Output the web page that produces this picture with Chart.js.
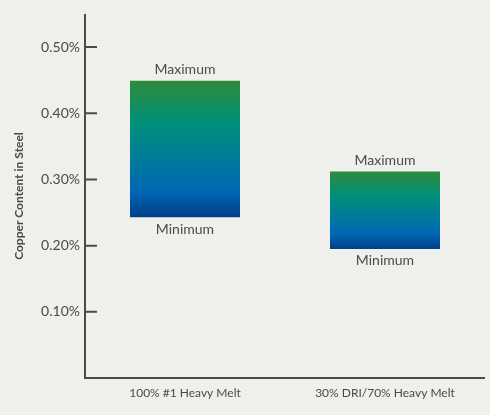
<!DOCTYPE html>
<html><head><meta charset="utf-8">
<script src="https://cdn.jsdelivr.net/npm/chart.js@4"></script>
<style>html,body{margin:0;padding:0;background:#efefeb;}#w{width:490px;height:415px;}</style>
</head><body><div id="w"><canvas id="c"></canvas></div>
<script>
const categories = ['100% #1 Heavy Melt', '30% DRI/70% Heavy Melt'];
const minValues = [0.243, 0.195];
const maxValues = [0.449, 0.312];
const tickValues = [0.1, 0.2, 0.3, 0.4, 0.5];

const ink = '#4a4a4a';
const axisPlugin = {
  id: 'axisPlugin',
  afterDatasetsDraw(chart) {
    const {ctx, chartArea: a, scales: {y}} = chart;
    ctx.save();
    ctx.strokeStyle = ink; ctx.lineWidth = 2;
    ctx.beginPath();
    ctx.moveTo(a.left, a.top); ctx.lineTo(a.left, a.bottom); ctx.lineTo(a.right, a.bottom);
    tickValues.forEach(v => { const py = y.getPixelForValue(v); ctx.moveTo(a.left, py); ctx.lineTo(a.left + 12, py); });
    ctx.stroke();
    ctx.fillStyle = ink; ctx.font = '14px Lato'; ctx.textAlign = 'center';
    chart.getDatasetMeta(0).data.forEach((bar, i) => {
      const top = Math.min(bar.y, bar.base), bot = Math.max(bar.y, bar.base);
      ctx.textBaseline = 'bottom'; ctx.fillText('Maximum', bar.x, top - 4);
      ctx.textBaseline = 'top'; ctx.fillText('Minimum', bar.x, bot + 5);
    });
    ctx.restore();
  }
};

new Chart(document.getElementById('c'), {
  type: 'bar',
  data: {
    labels: categories,
    datasets: [{
      data: categories.map((_, i) => [minValues[i], maxValues[i]]),
      backgroundColor(ctx) {
        const y = ctx.chart.scales && ctx.chart.scales.y;
        const raw = ctx.raw;
        if (!y || !Array.isArray(raw)) return '#009078';
        const top = y.getPixelForValue(Math.max(raw[0], raw[1]));
        const bot = y.getPixelForValue(Math.min(raw[0], raw[1]));
        if (!isFinite(top) || !isFinite(bot) || bot - top < 1) return '#009078';
        const g = ctx.chart.ctx.createLinearGradient(0, top, 0, bot);
        g.addColorStop(0, '#2f8b3b');
        g.addColorStop(0.3, '#009078');
        g.addColorStop(0.8, '#0068b4');
        g.addColorStop(1, '#003f8a');
        return g;
      },
      borderSkipped: false, borderWidth: 0,
      barPercentage: 0.55, categoryPercentage: 1
    }]
  },
  options: {
    responsive: true, maintainAspectRatio: false, animation: false,
    layout: {padding: {top: 14, right: 5, left: 12, bottom: 0}},
    plugins: {legend: {display: false}, tooltip: {enabled: false}},
    scales: {
      x: {
        grid: {display: false, drawTicks: false}, border: {display: false},
        ticks: {color: ink, font: {family: 'Lato', size: 12}, padding: 8},
        afterFit(s) { s.height = 37; }
      },
      y: {
        min: 0, max: 0.55,
        grid: {display: false, drawTicks: false}, border: {display: false},
        afterBuildTicks(s) { s.ticks = tickValues.map(v => ({value: v})); },
        ticks: {color: ink, font: {family: 'Lato', size: 14}, padding: 5,
          callback: v => v.toFixed(2) + '%'},
        title: {display: true, text: 'Copper Content in Steel', color: ink,
          font: {family: 'Lato', size: 12, weight: 'bold'}, padding: 0},
        afterFit(s) { s.width = 73; }
      }
    }
  },
  plugins: [axisPlugin]
});
</script></body></html>
